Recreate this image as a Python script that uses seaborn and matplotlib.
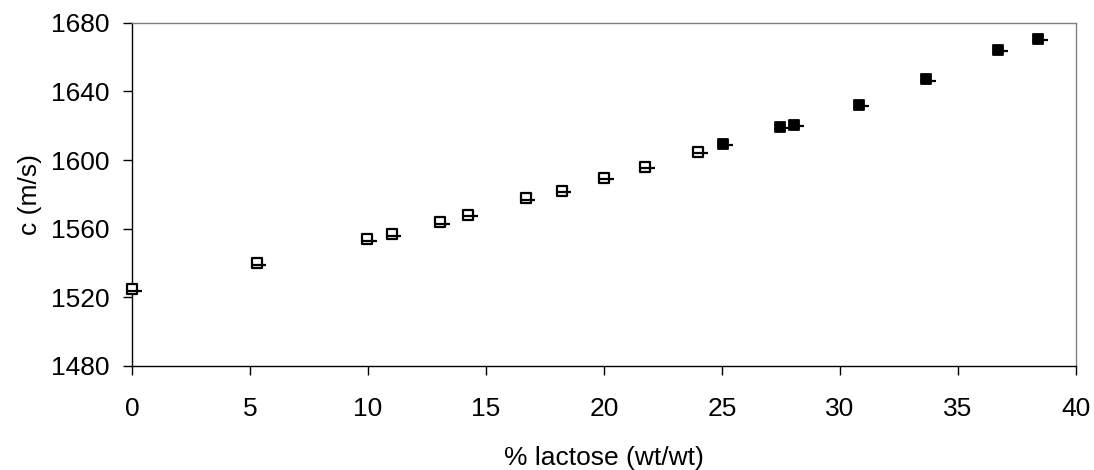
import matplotlib
matplotlib.use("Agg")
import matplotlib.pyplot as plt
import seaborn as sns
import pandas as pd

# Data
open_x = [0.0, 5.28, 9.96, 11.0, 13.05, 14.25, 16.68, 18.2, 20.0, 21.74, 24.0]
open_c = [1524.7, 1539.8, 1554.0, 1556.9, 1563.6, 1568.1, 1577.7, 1582.1, 1589.7, 1596.1, 1604.8]
filled_x = [25.06, 27.46, 28.05, 30.82, 33.64, 36.7, 38.4]
filled_c = [1609.3, 1619.1, 1620.4, 1632.1, 1647.0, 1664.1, 1670.5]
dash_x = [0.12, 5.4, 10.08, 11.12, 13.17, 14.37, 16.8, 18.32, 20.12, 21.86, 24.12,
          25.18, 27.58, 28.17, 30.94, 33.76, 36.82, 38.52]
dash_c = [1523.8, 1538.9, 1553.1, 1556.0, 1562.7, 1567.2, 1576.8, 1581.2, 1588.8, 1595.2, 1603.9,
          1608.6, 1618.4, 1619.7, 1631.4, 1646.3, 1663.4, 1669.8]
x_ticks = [0, 5, 10, 15, 20, 25, 30, 35, 40]
y_ticks = [1480, 1520, 1560, 1600, 1640, 1680]

sns.set_theme(style="white")
plt.rcParams['font.family'] = ['Liberation Sans', 'DejaVu Sans']

fig = plt.figure(figsize=(10.94, 4.70), dpi=100)
ax = fig.add_axes([0.1207, 0.2213, 0.8628, 0.7304])

df_open = pd.DataFrame({"x": open_x, "c": open_c})
df_filled = pd.DataFrame({"x": filled_x, "c": filled_c})
df_dash = pd.DataFrame({"x": dash_x, "c": dash_c})

sns.scatterplot(data=df_open, x="x", y="c", ax=ax, marker="s", s=62,
                facecolor="white", edgecolor="black", linewidth=1.6, zorder=3, clip_on=False)
sns.scatterplot(data=df_filled, x="x", y="c", ax=ax, marker="s", s=62,
                color="black", edgecolor="black", linewidth=1.3, zorder=3, clip_on=False)
sns.scatterplot(data=df_dash, x="x", y="c", ax=ax, marker="_", s=90,
                color="black", linewidth=1.6, zorder=4, clip_on=False)

ax.set_xlim(0, 40)
ax.set_ylim(1480, 1680)
ax.set_xticks(x_ticks)
ax.set_yticks(y_ticks)
ax.tick_params(axis="both", direction="out", length=6.5, width=1, color="black",
               labelsize=19, labelcolor="black", bottom=True, left=True)
ax.tick_params(axis="y", pad=10)
ax.tick_params(axis="x", pad=16)
for sp in ax.spines.values():
    sp.set_visible(True)
    sp.set_color("black")
    sp.set_linewidth(1)
ax.spines["top"].set_color("#808080")
ax.spines["right"].set_color("#808080")
ax.set_xlabel("% lactose (wt/wt)", fontsize=19, color="black", labelpad=18)
ax.set_ylabel("c (m/s)", fontsize=19, color="black", labelpad=6)
ax.grid(False)

fig.savefig("out.png", dpi=100)
